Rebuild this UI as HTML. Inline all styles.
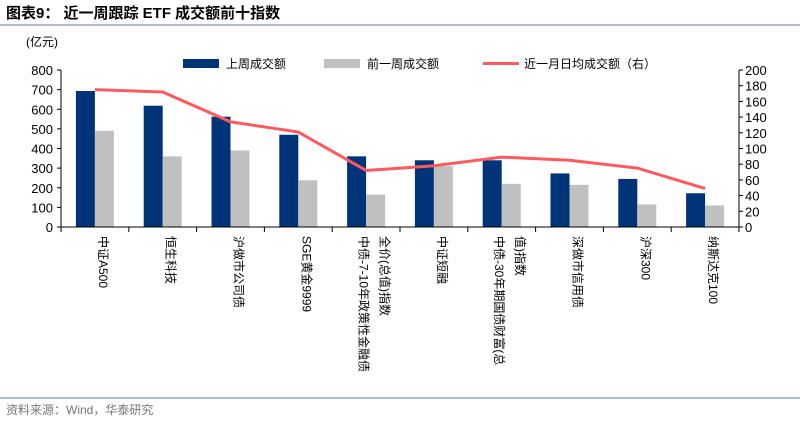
<!DOCTYPE html>
<html><head><meta charset="utf-8"><style>
body{margin:0;background:#fff;}
svg text{font-family:"Liberation Sans","Noto Sans CJK SC",sans-serif;}
</style></head><body>
<svg id="chart" width="800" height="424" xmlns="http://www.w3.org/2000/svg">
<text x="6" y="18" font-size="15" font-weight="bold" fill="#000">图表9：  近一周跟踪 ETF 成交额前十指数</text>
<line x1="0" y1="25" x2="800" y2="25" stroke="#8fa9c4" stroke-width="1.5"/>
<text x="26" y="46" font-size="12">(亿元)</text>
<g>
<rect x="183" y="59" width="36" height="9" fill="#003478"/>
<text x="226" y="68" font-size="12">上周成交额</text>
<rect x="324" y="59" width="36" height="9" fill="#c0c0c0"/>
<text x="367" y="68" font-size="12">前一周成交额</text>
<line x1="483" y1="63.5" x2="519" y2="63.5" stroke="#ff5a5f" stroke-width="3"/>
<text x="524" y="68" font-size="12">近一月日均成交额（右）</text>
</g>
<g id="plot"></g>
<line x1="0" y1="398" x2="800" y2="398" stroke="#8fa9c4" stroke-width="1.5"/>
<text x="6" y="414" font-size="12" fill="#777">资料来源：Wind，华泰研究</text>
</svg>
<script>
const categories=[["中证A500"],["恒生科技"],["沪做市公司债"],["SGE黄金9999"],["中债-7-10年政策性金融债","全价(总值)指数"],["中证短融"],["中债-30年期国债财富(总","值)指数"],["深做市信用债"],["沪深300"],["纳斯达克100"]];
const lastWeek=[693,618,562,470,360,340,340,273,245,172];
const prevWeek=[490,360,390,238,165,310,220,215,115,110];
const monthAvg=[175,172,134,121,72,78,89,85,75,49];
const leftTicks=[0,100,200,300,400,500,600,700,800];
const rightTicks=[0,20,40,60,80,100,120,140,160,180,200];
const NS="http://www.w3.org/2000/svg";
const g=document.getElementById('plot');
const X0=61,X1=739,Y0=227,Y1=70;
const bw=(X1-X0)/categories.length;
const yL=v=>Y0-(v/800)*(Y0-Y1);
const yR=v=>Y0-(v/200)*(Y0-Y1);
function mk(t,a){const e=document.createElementNS(NS,t);for(const k in a)e.setAttribute(k,a[k]);g.appendChild(e);return e;}
// axes
let e=mk('line',{x1:X0,y1:Y1,x2:X0,y2:Y0,stroke:'#000'});


e=mk('line',{x1:X1,y1:Y1,x2:X1,y2:Y0,stroke:'#000'});


leftTicks.forEach(v=>{
 const y=yL(v);
 mk('line',{x1:X0-4,y1:y,x2:X0,y2:y,stroke:'#000'});
 const t=mk('text',{x:X0-8,y:y+5,'font-size':13,'text-anchor':'end'});t.textContent=v;
 
 
});
rightTicks.forEach(v=>{
 const y=yR(v);
 mk('line',{x1:X1,y1:y,x2:X1+4,y2:y,stroke:'#000'});
 const t=mk('text',{x:X1+6,y:y+5,'font-size':13});t.textContent=v;
 
 
});
for(let i=0;i<=categories.length;i++){const x=X0+i*bw;mk('line',{x1:x,y1:Y0,x2:x,y2:Y0+5,stroke:'#000'});}
categories.forEach((c,i)=>{
 const cx=X0+(i+0.5)*bw;
 let b=mk('rect',{x:cx-19,y:yL(lastWeek[i]),width:19,height:Y0-yL(lastWeek[i]),fill:'#003478'});
 
 
 b=mk('rect',{x:cx,y:yL(prevWeek[i]),width:19,height:Y0-yL(prevWeek[i]),fill:'#c0c0c0'});
 
 
 const n=c.length;
 c.forEach((line,j)=>{
  const lx=cx+(j-(n-1)/2)*21+4;
  const t=mk('text',{x:0,y:0,'font-size':12,transform:`translate(${lx},236) rotate(90)`});
  t.textContent=line;
  
  
 });
});
mk('line',{x1:X0,y1:Y0,x2:X1,y2:Y0,stroke:'#000'});
const pts=monthAvg.map((v,i)=>`${X0+(i+0.5)*bw},${yR(v)}`).join(' ');
e=mk('polyline',{points:pts,fill:'none',stroke:'#ff5a5f','stroke-width':3});


</script>
</body></html>
